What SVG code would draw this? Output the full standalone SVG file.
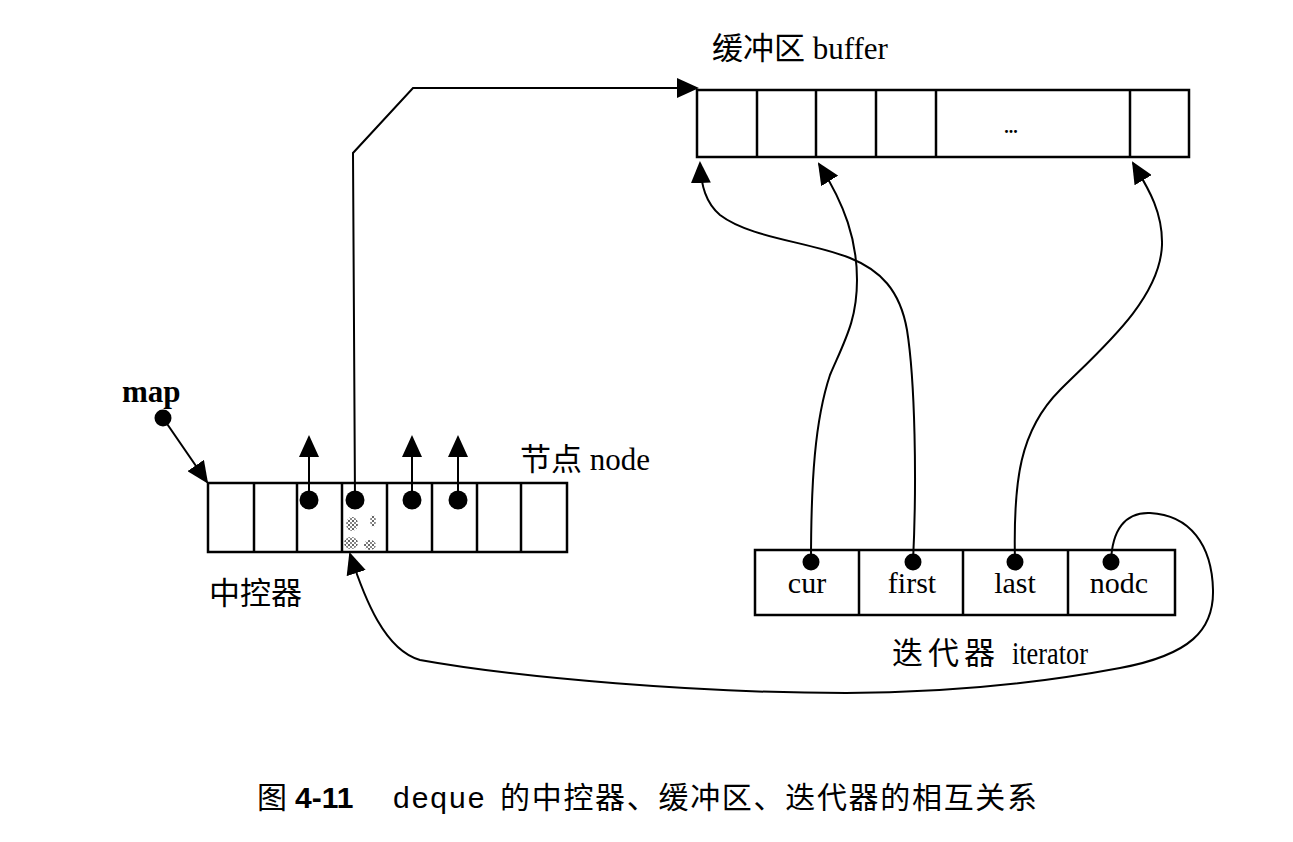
<svg xmlns="http://www.w3.org/2000/svg" width="1293" height="842" viewBox="0 0 1293 842">
<defs>
<marker id="ah" markerUnits="userSpaceOnUse" markerWidth="22" markerHeight="20" refX="20" refY="10" orient="auto">
<path d="M0,0 L22,10 L0,20 Z" fill="#000"/>
</marker>
<pattern id="stip" width="4" height="4" patternUnits="userSpaceOnUse">
<rect x="0" y="0" width="2" height="2" fill="#666"/>
<rect x="2" y="2" width="2" height="2" fill="#888"/>
</pattern>
</defs>
<style>
.box{fill:#fff;stroke:#000;stroke-width:2.5}
.div{stroke:#000;stroke-width:2.5}
.con{fill:none;stroke:#000;stroke-width:2}
.dot{fill:#000}
.lbl{font-family:"Liberation Serif","Noto Sans CJK SC",serif;font-size:31px;fill:#000}
.cell{font-family:"Liberation Serif",serif;font-size:30px;fill:#000;text-anchor:middle}
.cap{font-family:"Liberation Sans","Noto Sans CJK SC",sans-serif;font-size:30px;fill:#000}
</style>
<rect width="1293" height="842" fill="#fff"/>

<g id="buffer">
<rect class="box" x="697" y="90" width="492" height="67"/>
<line class="div" x1="757" y1="90" x2="757" y2="157"/>
<line class="div" x1="816" y1="90" x2="816" y2="157"/>
<line class="div" x1="876" y1="90" x2="876" y2="157"/>
<line class="div" x1="936" y1="90" x2="936" y2="157"/>
<line class="div" x1="1130" y1="90" x2="1130" y2="157"/>
<text x="1011" y="133" font-family="Liberation Serif,serif" font-size="18" font-weight="bold" text-anchor="middle">...</text>
<text class="lbl" x="712" y="59">缓冲区 buffer</text>
</g>

<g id="map-controller">
<rect class="box" x="208" y="483" width="359" height="69"/>
<g fill="url(#stip)">
<ellipse cx="352" cy="524" rx="6" ry="7"/>
<ellipse cx="373" cy="521" rx="3" ry="6"/>
<ellipse cx="351" cy="543" rx="7" ry="6"/>
<ellipse cx="370" cy="545" rx="6" ry="5"/>
</g>
<line class="div" x1="254" y1="483" x2="254" y2="552"/>
<line class="div" x1="297" y1="483" x2="297" y2="552"/>
<line class="div" x1="342" y1="483" x2="342" y2="552"/>
<line class="div" x1="387" y1="483" x2="387" y2="552"/>
<line class="div" x1="432" y1="483" x2="432" y2="552"/>
<line class="div" x1="477" y1="483" x2="477" y2="552"/>
<line class="div" x1="521" y1="483" x2="521" y2="552"/>
<circle class="dot" cx="309" cy="500" r="9.5"/>
<circle class="dot" cx="355" cy="500" r="9.5"/>
<circle class="dot" cx="412" cy="500" r="9.5"/>
<circle class="dot" cx="458" cy="500" r="9.5"/>
<text class="lbl" x="520" y="470">节点 node</text>
<text class="lbl" x="209" y="604">中控器</text>
</g>

<g id="map-pointer">
<text x="122" y="402" font-family="Liberation Serif,serif" font-weight="bold" font-size="31">map</text>
<circle class="dot" cx="163" cy="418" r="8.5"/>
</g>

<g id="iterator">
<rect class="box" x="755" y="550" width="420" height="65"/>
<line class="div" x1="859" y1="550" x2="859" y2="615"/>
<line class="div" x1="963" y1="550" x2="963" y2="615"/>
<line class="div" x1="1068" y1="550" x2="1068" y2="615"/>
<circle class="dot" cx="811" cy="562" r="8.5"/>
<circle class="dot" cx="913" cy="562" r="8.5"/>
<circle class="dot" cx="1015" cy="562" r="8.5"/>
<circle class="dot" cx="1111" cy="562" r="8.5"/>
<text class="cell" x="807" y="593">cur</text>
<text class="cell" x="912" y="593">first</text>
<text class="cell" x="1015" y="593">last</text>
<text class="cell" x="1119" y="593">nodc</text>
<text class="lbl" x="892" y="664" letter-spacing="5">迭代器</text>
<text class="lbl" x="1012" y="664" textLength="76" lengthAdjust="spacingAndGlyphs">iterator</text>
</g>

<g id="connectors">
<line class="con" x1="163" y1="418" x2="207" y2="482" marker-end="url(#ah)"/>
<line class="con" x1="309" y1="500" x2="309" y2="437" marker-end="url(#ah)"/>
<line class="con" x1="412" y1="500" x2="412" y2="437" marker-end="url(#ah)"/>
<line class="con" x1="458" y1="500" x2="458" y2="437" marker-end="url(#ah)"/>
<path class="con" d="M355,500 L353,153 L413,88 L697,88" marker-end="url(#ah)"/>
<path class="con" d="M913,562 C917,480 915,380 907,330 C900,290 880,270 850,258 C810,242 750,238 720,215 C706,203 701,186 700,163" marker-end="url(#ah)"/>
<path class="con" d="M811,562 C811,480 815,420 830,375 C845,340 857,320 857,280 C857,240 845,205 819,164" marker-end="url(#ah)"/>
<path class="con" d="M1015,562 C1013,480 1020,430 1060,390 C1100,350 1160,300 1162,245 C1163,210 1146,185 1133,163" marker-end="url(#ah)"/>
<path class="con" d="M1111,562 C1112,530 1125,512 1150,513 C1190,515 1212,545 1213,590 C1214,630 1190,655 1120,668 C1040,683 950,693 846,693 C700,693 520,678 420,660 C385,650 365,600 350,554" marker-end="url(#ah)"/>
</g>

<g id="caption">
<text class="cap" x="257" y="808">图</text>
<text class="cap" x="295" y="808" font-weight="bold">4-11</text>
<text class="cap" x="393" y="808" letter-spacing="2">deque</text>
<text class="cap" x="500" y="808" textLength="537" lengthAdjust="spacing">的中控器、缓冲区、迭代器的相互关系</text>
</g>
</svg>
